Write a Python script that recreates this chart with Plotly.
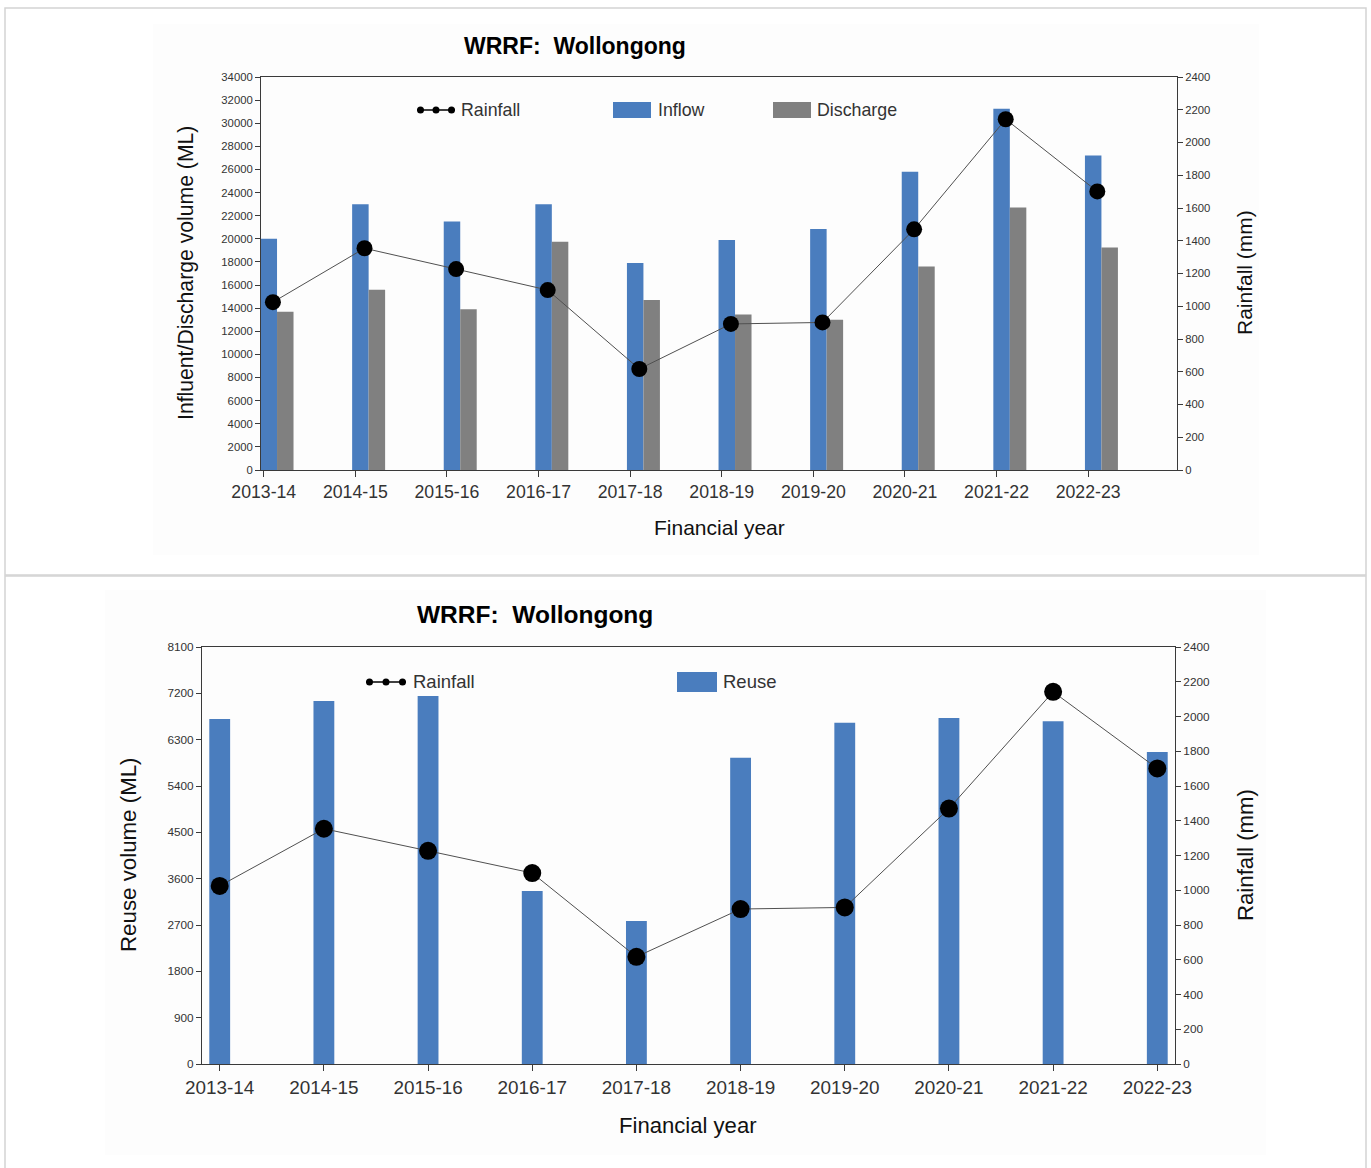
import plotly.graph_objects as go

# ---------------- data ----------------
years = ["2013-14", "2014-15", "2015-16", "2016-17", "2017-18",
         "2018-19", "2019-20", "2020-21", "2021-22", "2022-23"]
inflow = [20000, 23000, 21500, 23000, 17900, 19900, 20850, 25800, 31250, 27200]
discharge = [13700, 15600, 13900, 19750, 14700, 13450, 13000, 17600, 22700, 19250]
rainfall = [1025, 1354, 1227, 1099, 617, 892, 901, 1470, 2142, 1701]
reuse = [6700, 7050, 7150, 3360, 2780, 5950, 6630, 6720, 6660, 6060]

left_ticks_top = list(range(0, 34001, 2000))
right_ticks = list(range(0, 2401, 200))
left_ticks_bottom = list(range(0, 8101, 900))

W, H = 1371, 1168
def fx(x):
    return x / W
def fy(y):
    return 1 - y / H

BLUE = "#4a7dbe"
GRAY = "#808080"
FONT = "Liberation Sans"
AX = "#3a3a3a"

idx = list(range(len(years)))

fig = go.Figure()

# top chart
fig.add_trace(go.Bar(x=idx, y=inflow, name="Inflow", marker_color=BLUE, marker_line_width=0,
                     width=0.18, offset=-0.035, xaxis="x", yaxis="y", showlegend=False))
fig.add_trace(go.Bar(x=idx, y=discharge, name="Discharge", marker_color=GRAY, marker_line_width=0,
                     width=0.18, offset=0.145, xaxis="x", yaxis="y", showlegend=False))
fig.add_trace(go.Scatter(x=[i + 0.1 for i in idx], y=rainfall, name="Rainfall", mode="lines+markers",
                         line=dict(color="#505050", width=1),
                         marker=dict(color="black", size=16),
                         xaxis="x", yaxis="y2", showlegend=False))

# bottom chart
fig.add_trace(go.Bar(x=idx, y=reuse, name="Reuse", marker_color=BLUE, marker_line_width=0,
                     width=0.2, xaxis="x2", yaxis="y3", showlegend=False))
fig.add_trace(go.Scatter(x=idx, y=rainfall, name="Rainfall", mode="lines+markers",
                         line=dict(color="#505050", width=1),
                         marker=dict(color="black", size=18),
                         xaxis="x2", yaxis="y4", showlegend=False))

common_x = dict(tickmode="array", tickvals=idx, ticktext=years, ticks="outside", ticklen=6,
                tickcolor=AX, showline=True, linecolor=AX, linewidth=1, mirror=True,
                showgrid=False, zeroline=False, fixedrange=True, automargin=False)
common_y = dict(ticks="outside", ticklen=5, tickcolor=AX, showline=True, linecolor=AX,
                linewidth=1, showgrid=False, zeroline=False,
                tickformat="d", automargin=False, tickmode="array")

tf_top = dict(family=FONT, size=11.3, color="#333")
tf_bot = dict(family=FONT, size=11.8, color="#333")

top_dom_x = [fx(261), fx(1177)]
top_dom_y = [fy(470), fy(77)]
bot_dom_x = [fx(202), fx(1175)]
bot_dom_y = [fy(1064), fy(647)]

fig.update_layout(
    width=W, height=H,
    margin=dict(l=0, r=0, t=0, b=0, pad=0, autoexpand=False),
    paper_bgcolor="white", plot_bgcolor="white",
    barmode="overlay",
    xaxis=dict(common_x, domain=top_dom_x, range=[-0.03, 9.97], anchor="y",
               tickfont=dict(family=FONT, size=17.7, color="#333")),
    yaxis=dict(common_y, domain=top_dom_y, range=[0, 34000], tickvals=left_ticks_top, anchor="x",
               tickfont=tf_top),
    yaxis2=dict(common_y, overlaying="y", side="right", range=[0, 2400], tickvals=right_ticks, anchor="x",
                tickfont=tf_top),
    xaxis2=dict(common_x, domain=bot_dom_x, range=[-0.17, 9.17], anchor="y3",
                tickfont=dict(family=FONT, size=18.9, color="#333")),
    yaxis3=dict(common_y, domain=bot_dom_y, range=[0, 8100], tickvals=left_ticks_bottom, anchor="x2",
                tickfont=tf_bot),
    yaxis4=dict(common_y, overlaying="y3", side="right", range=[0, 2400], tickvals=right_ticks, anchor="x2",
                tickfont=tf_bot),
)

shapes = []
# panel borders and faint image backgrounds
shapes.append(dict(type="rect", xref="paper", yref="paper", x0=fx(5), x1=fx(1366), y0=fy(575), y1=fy(8),
                   line=dict(color="#d4d4d4", width=1.5), fillcolor="rgba(0,0,0,0)", layer="below"))
shapes.append(dict(type="rect", xref="paper", yref="paper", x0=fx(5), x1=fx(1366), y0=fy(1175), y1=fy(576),
                   line=dict(color="#d4d4d4", width=1.5), fillcolor="rgba(0,0,0,0)", layer="below"))
shapes.append(dict(type="rect", xref="paper", yref="paper", x0=fx(153), x1=fx(1259), y0=fy(555), y1=fy(24),
                   line=dict(width=0), fillcolor="#fdfdfd", layer="below"))
shapes.append(dict(type="rect", xref="paper", yref="paper", x0=fx(105), x1=fx(1266), y0=fy(1155), y1=fy(590),
                   line=dict(width=0), fillcolor="#fdfdfd", layer="below"))

annotations = []

def legend_line(x0, x1, yc):
    shapes.append(dict(type="line", xref="paper", yref="paper", x0=fx(x0), x1=fx(x1), y0=fy(yc), y1=fy(yc),
                       line=dict(color="black", width=1.5)))
    for cx in (x0 + 3.5, (x0 + x1) / 2, x1 - 3.5):
        shapes.append(dict(type="circle", xref="paper", yref="paper", x0=fx(cx - 3.5), x1=fx(cx + 3.5),
                           y0=fy(yc + 3.5), y1=fy(yc - 3.5), fillcolor="black", line=dict(width=0)))

def legend_box(x0, x1, y0, y1, color):
    shapes.append(dict(type="rect", xref="paper", yref="paper", x0=fx(x0), x1=fx(x1), y0=fy(y1), y1=fy(y0),
                       fillcolor=color, line=dict(width=0)))

def text(x, y, s, size, color="#333", xanchor="left", angle=0):
    annotations.append(dict(xref="paper", yref="paper", x=fx(x), y=fy(y), text=s, showarrow=False,
                            xanchor=xanchor, yanchor="middle", textangle=angle,
                            font=dict(family=FONT, size=size, color=color)))

# top legend
legend_line(417, 455, 110)
text(459, 110, "Rainfall", 17.8)
legend_box(613, 651, 102, 118, BLUE)
text(656, 110, "Inflow", 17.8)
legend_box(773, 811, 102, 118, GRAY)
text(815, 110, "Discharge", 17.8)

# bottom legend
legend_line(366, 406, 682)
text(411, 682, "Rainfall", 18.5)
legend_box(677, 717, 672, 692, BLUE)
text(721, 682, "Reuse", 18.5)

# titles
text(575, 46, "<b>WRRF:  Wollongong</b>", 23, color="black", xanchor="center")
text(535, 614, "<b>WRRF:  Wollongong</b>", 24.5, color="black", xanchor="center")

# axis titles
text(186, 273, "Influent/Discharge volume (ML)", 21.2, color="#111", xanchor="center", angle=-90)
text(1244, 273, "Rainfall (mm)", 21, color="#111", xanchor="center", angle=-90)
text(720, 527, "Financial year", 21, color="#111", xanchor="center")
text(128, 855, "Reuse volume (ML)", 22.3, color="#111", xanchor="center", angle=-90)
text(1245, 855, "Rainfall (mm)", 22.2, color="#111", xanchor="center", angle=-90)
text(688, 1125, "Financial year", 22.1, color="#111", xanchor="center")

fig.update_layout(shapes=shapes, annotations=annotations)

fig.write_html("out.html", config={"displayModeBar": False},
               post_script="document.body.style.margin='0';")
